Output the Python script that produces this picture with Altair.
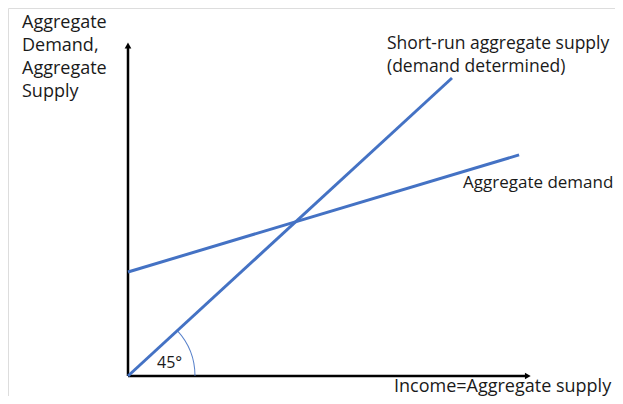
import altair as alt
import pandas as pd

# --- data (economic units) ---
sras_x = [0.0, 10.0]          # 45° line: supply = income
sras_y = [0.0, 10.0]
ad_x = [0.0, 12.07]           # aggregate demand
ad_y = [3.49, 7.42]
x_axis_end = 12.47
y_axis_end = 11.24

labels = ["Short-run aggregate supply\n(demand determined)", "Aggregate demand",
          "Income=Aggregate supply", "Aggregate\nDemand,\nAggregate\nSupply", "45°"]

BLUE = "#4472C4"
FONT = "Open Sans"
TXT = "#1a1a1a"

xs = alt.Scale(domain=[-3.7037, 15.0309], nice=False, zero=False)
ys = alt.Scale(domain=[-0.6711, 12.349], nice=False, zero=False)
X = lambda f: alt.X(f, type="quantitative", scale=xs, axis=None)
Y = lambda f: alt.Y(f, type="quantitative", scale=ys, axis=None)

lines_df = pd.DataFrame({
    "x": sras_x + ad_x,
    "y": sras_y + ad_y,
    "s": ["SRAS"] * 2 + ["AD"] * 2,
})
lines = alt.Chart(lines_df).mark_line(color=BLUE, strokeWidth=3).encode(
    x=X("x"), y=Y("y"), detail="s:N")

axes_df = pd.DataFrame({"x": [0, 0], "y": [0, 0],
                        "x2": [x_axis_end - 0.2, 0], "y2": [0, y_axis_end - 0.2]})
axes = alt.Chart(axes_df).mark_rule(color="black", strokeWidth=2.5).encode(
    x=X("x"), y=Y("y"), x2="x2:Q", y2="y2:Q")

heads_df = pd.DataFrame({"x": [x_axis_end - 0.13, 0], "y": [0, y_axis_end - 0.15],
                         "shape": ["triangle-right", "triangle-up"]})
heads = alt.Chart(heads_df).mark_point(filled=True, color="black", opacity=1, size=45).encode(
    x=X("x"), y=Y("y"),
    shape=alt.Shape("shape:N", scale=None, legend=None))

arc = alt.Chart(pd.DataFrame({"x": [0], "y": [0]})).mark_arc(
    radius=67.5, radius2=66.5, theta=0.827, theta2=1.5708, color=BLUE, opacity=0.9
).encode(x=X("x"), y=Y("y"))

def txt(i, px, py, align="left", size=18, lh=23):
    return alt.Chart(pd.DataFrame({"t": [labels[i]]})).mark_text(
        align=align, baseline="alphabetic", font=FONT, fontSize=size, color=TXT,
        lineBreak="\n", lineHeight=lh
    ).encode(x=alt.value(px - 8), y=alt.value(py - 8), text="t:N")

texts = [
    txt(0, 387, 49, size=17.5),
    txt(1, 463, 188, size=17),
    txt(2, 394, 392),
    txt(3, 22, 28),
    txt(4, 157, 368, size=16),
]

chart = alt.layer(axes, heads, arc, lines, *texts).properties(
    width=607, height=388, autosize=alt.AutoSizeParams(type="none"), padding=0
).configure_view(stroke=None).configure(background="white")

chart.save("out.html", embed_options={"renderer": "svg", "actions": False})
